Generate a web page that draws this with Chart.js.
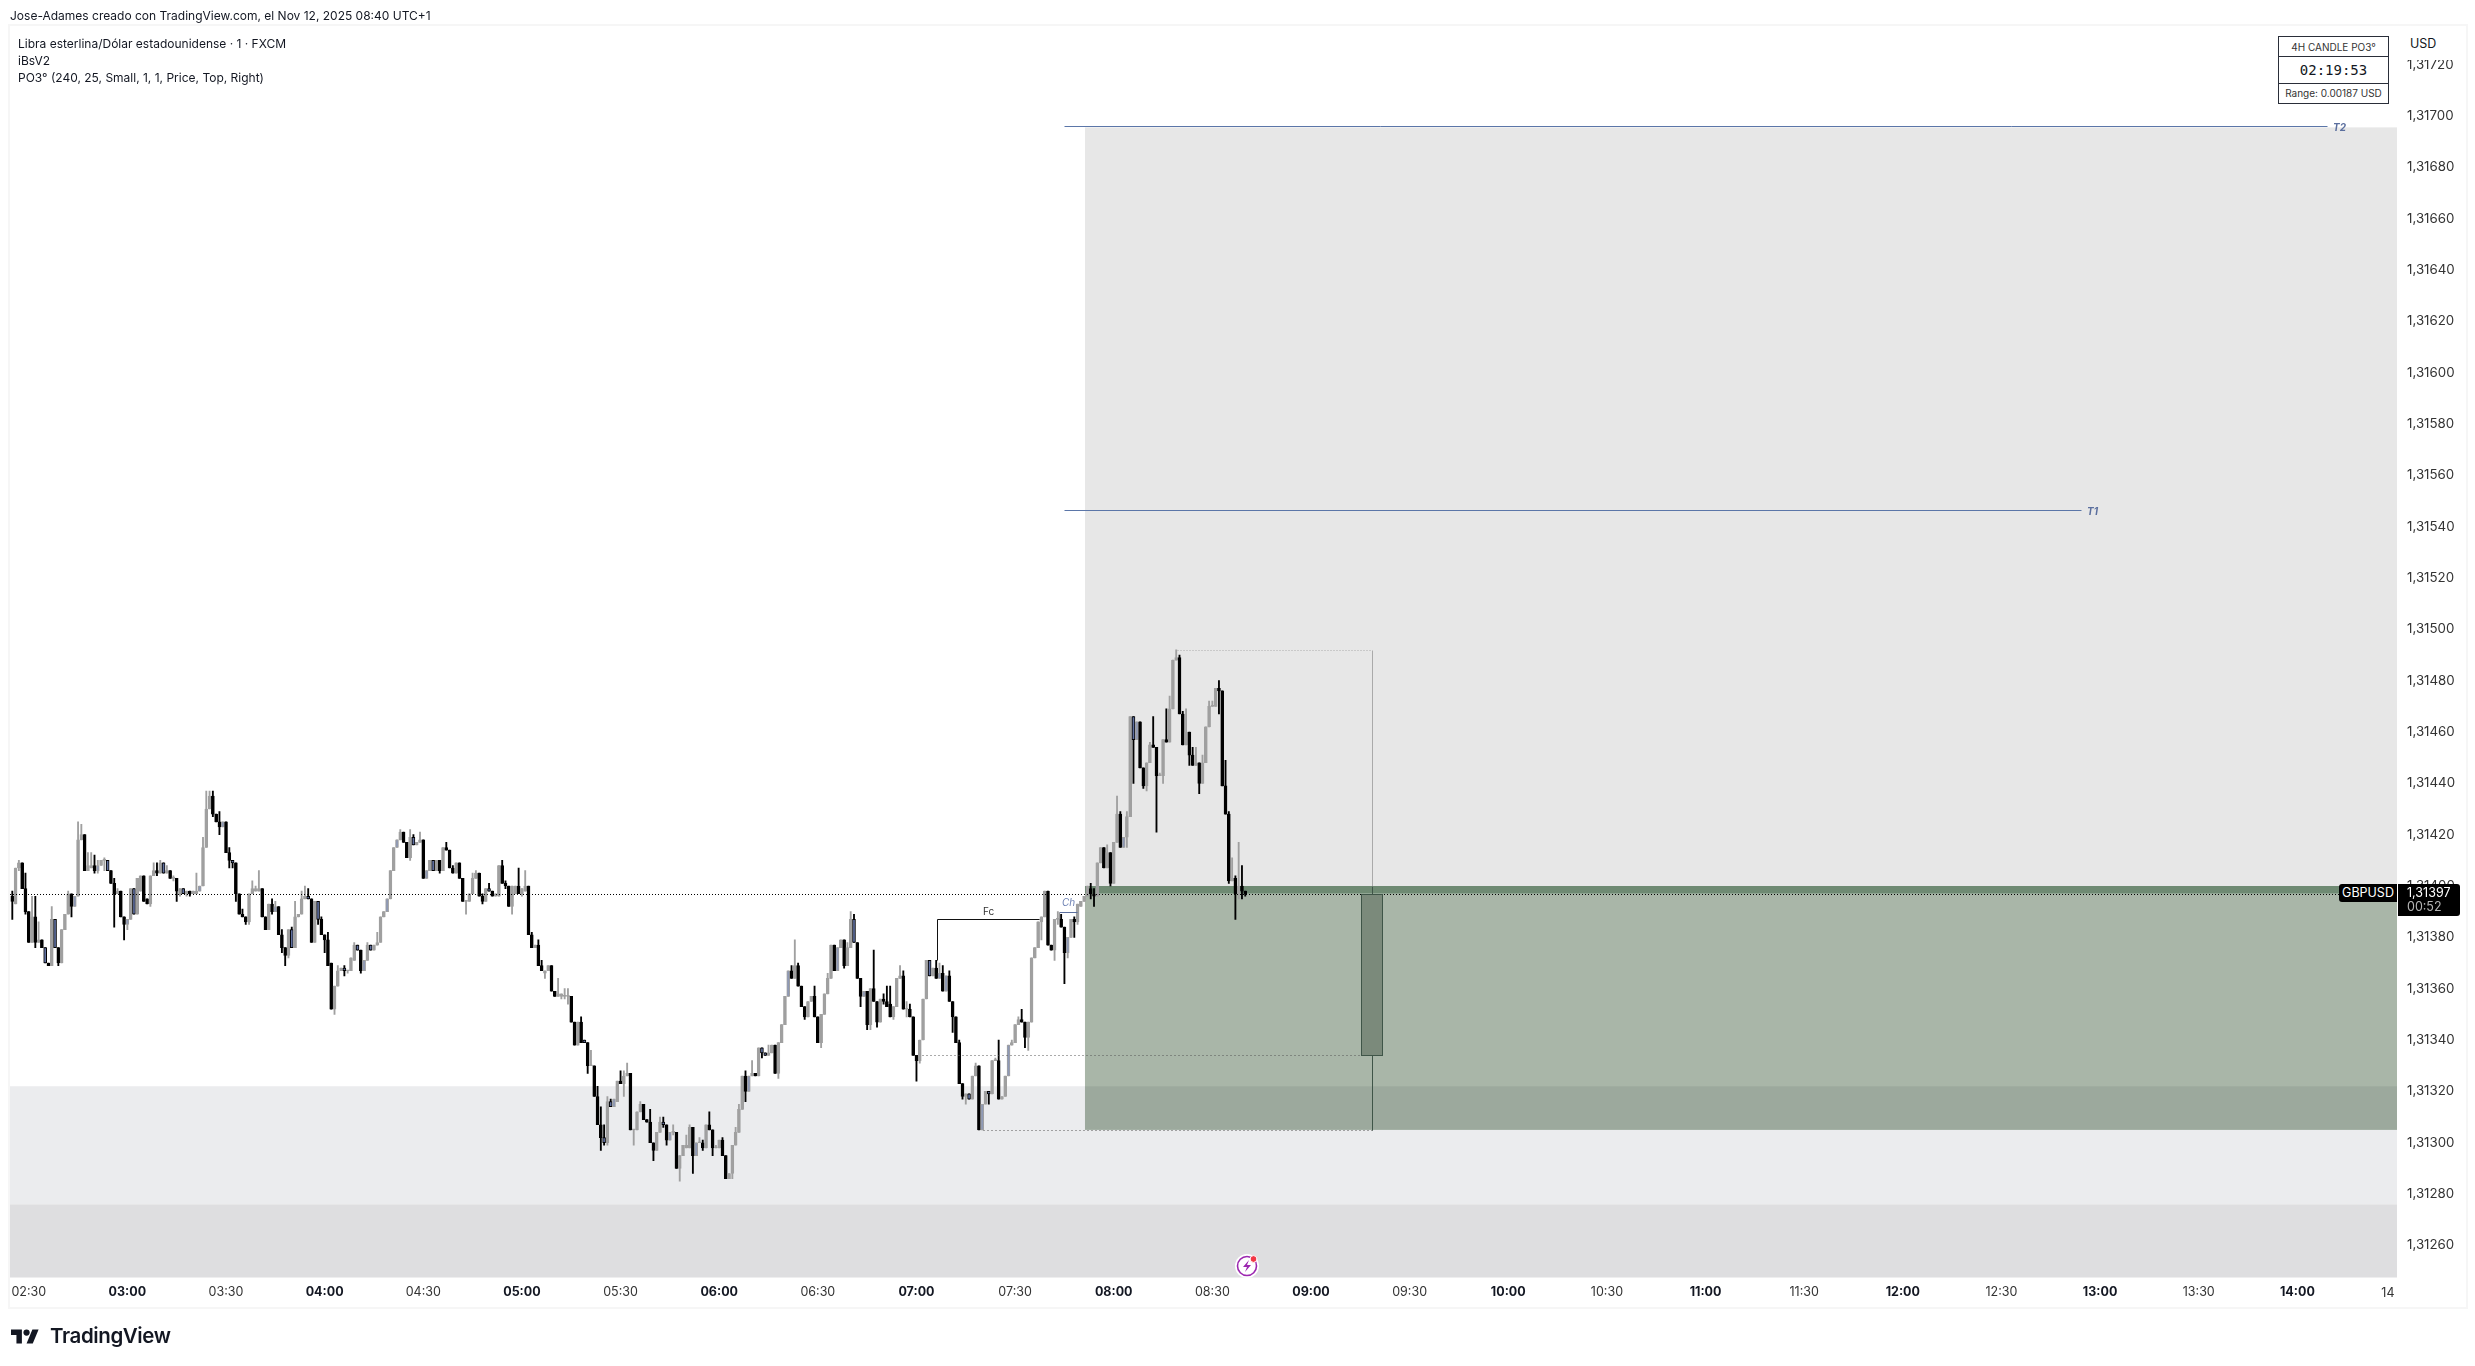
<!DOCTYPE html>
<html>
<head>
<meta charset="utf-8">
<title>GBPUSD 1m</title>
<script src="https://cdn.jsdelivr.net/npm/chart.js@4"></script>
<style>
  html, body { margin: 0; background: #fff; }
  body { width: 2475px; height: 1366px; position: relative; overflow: hidden; font-family: Inter, sans-serif; color: #131722; }
  canvas { position: absolute; left: 0; top: 0; }
  .t { position: absolute; white-space: nowrap; font-size: 12px; line-height: 17px; }
  #frame { position: absolute; left: 8px; top: 24px; width: 2456px; height: 1281px; border: 2px solid #f6f6f6; }
  #panel { position: absolute; left: 2278px; top: 36px; width: 109px; height: 66px; border: 1px solid #2a2e39; background: #fff; text-align: center; }
  #panel div { border-bottom: 1px solid #2a2e39; box-sizing: border-box; white-space: nowrap; }
  #panel div:last-child { border-bottom: 0; }
  #usd { position: absolute; left: 2401px; top: 31px; width: 60px; height: 29px; background: #fff; border-radius: 5px; font-size: 12.5px; line-height: 26px; text-indent: 9px; }
  .tag { position: absolute; background: #000; color: #fff; font-size: 12.5px; }
</style>
</head>
<body>
<div id="frame"></div>
<canvas id="chart" width="2475" height="1366"></canvas>

<div class="t" style="left:10px;top:7px">Jose-Adames creado con TradingView.com, el Nov 12, 2025 08:40 UTC+1</div>
<div class="t" style="left:18px;top:35px">Libra esterlina/Dólar estadounidense · 1 · FXCM</div>
<div class="t" style="left:18px;top:52px">iBsV2</div>
<div class="t" style="left:18px;top:69px">PO3° (240, 25, Small, 1, 1, Price, Top, Right)</div>

<div id="panel">
  <div style="height:20px;font-size:10px;line-height:20px;color:#333">4H CANDLE PO3°</div>
  <div style="height:27px;font:14px/27px 'DejaVu Sans Mono',monospace">02:19:53</div>
  <div style="height:19px;font-size:10px;line-height:19px;color:#333">Range: 0.00187 USD</div>
</div>
<div id="usd">USD</div>

<div class="tag" style="left:2339px;top:884px;width:58px;height:18px;line-height:18px;text-align:center;border-radius:3px 0 0 3px">GBPUSD</div>
<div class="tag" style="left:2398px;top:884px;width:62px;height:32px;border-radius:0 3px 3px 0">
  <div style="position:absolute;left:9px;top:0;line-height:17px">1,31397</div>
  <div style="position:absolute;left:9px;top:14px;line-height:17px;color:#b5b5b5">00:52</div>
</div>

<svg style="position:absolute;left:1234px;top:1253px" width="26" height="26" viewBox="0 0 26 26">
  <circle cx="13" cy="13" r="12" fill="#fff"/>
  <circle cx="13" cy="13" r="9.5" fill="none" stroke="#9c27b0" stroke-width="1.6"/>
  <path d="M15 7l-6 7h4l-2 5 6-7h-4z" fill="#9c27b0"/>
  <circle cx="19.5" cy="6" r="3.4" fill="#f23645" stroke="#fff" stroke-width="1"/>
</svg>

<svg style="position:absolute;left:11px;top:1327px" width="28" height="19" viewBox="0 2 36 22">
  <path d="M14 22H7V11H0V4h14v18zM28 22h-8l7.5-18h8L28 22z" fill="#131722"/>
  <circle cx="20" cy="8" r="4" fill="#131722"/>
</svg>
<div class="t" style="left:50px;top:1322px;font-size:20.5px;line-height:28px;font-weight:600;letter-spacing:-0.4px">TradingView</div>

<script>
// price values in points above 1.31000, one candle per minute from 02:25
const firstMinute = 145;
const opens = [
  396,393,407,409,399,390,378,388,378,379,376,370,369,387,376,370,383,389,397,392,
  396,418,420,406,407,408,406,408,410,410,406,401,397,398,388,385,387,399,389,398,
  404,395,393,404,406,405,409,405,406,403,403,397,399,397,398,397,397,398,400,415,
  430,435,428,425,423,425,413,410,409,397,389,388,386,397,398,398,399,388,383,393,
  390,392,381,376,373,383,376,388,389,395,396,395,378,394,387,381,379,370,352,361,
  367,368,367,367,371,377,375,367,371,377,375,377,378,388,390,395,406,415,418,421,
  417,411,419,416,417,418,403,406,410,406,410,406,415,414,407,405,409,403,394,394,
  397,403,405,396,394,399,398,396,396,408,401,400,392,397,400,397,398,400,381,376,
  377,369,366,367,369,359,357,357,357,357,357,347,338,347,340,339,330,330,318,307,
  302,300,316,314,316,324,323,326,327,305,305,312,315,309,308,300,297,304,308,307,
  301,304,304,290,295,298,298,306,295,300,300,298,307,305,298,298,301,295,286,288,
  299,304,313,326,320,326,327,326,337,335,334,335,338,327,339,346,357,367,364,369,
  361,353,349,355,357,349,339,350,358,364,377,367,376,379,369,376,387,378,364,357,
  359,346,360,355,347,356,355,354,349,353,364,365,352,352,349,334,332,340,356,371,
  365,368,364,366,359,365,355,349,339,323,318,319,317,326,330,305,315,320,319,332,
  332,317,318,326,338,339,346,348,347,341,347,372,376,386,388,398,377,375,387,387,
  384,374,380,387,386,392,394,396,399,397,396,409,415,407,413,401,417,428,415,419,
  427,466,457,464,446,439,448,455,454,443,443,457,456,469,488,489,467,455,460,451,
  447,448,440,448,462,470,470,477,476,439,428,402,403,397,400,398
];
const highs = [
  398,407,410,409,405,390,396,396,386,379,376,370,392,387,376,383,389,398,397,396,
  425,424,420,413,413,412,410,410,411,410,406,403,399,398,388,387,399,399,403,404,
  404,395,404,409,409,410,409,408,406,404,403,399,399,398,398,398,405,400,419,437,
  437,437,428,429,425,425,415,410,409,397,391,388,397,402,400,406,399,388,393,395,
  394,392,383,376,383,384,394,389,398,400,399,395,394,394,388,381,382,370,361,369,
  368,369,367,372,378,377,375,371,378,377,377,382,388,390,395,406,415,418,422,421,
  417,422,420,417,421,418,406,410,410,410,410,415,417,414,408,409,409,403,394,397,
  405,406,405,397,399,401,398,397,408,410,402,400,400,400,407,399,406,400,382,377,
  379,371,367,369,369,359,364,358,360,360,357,347,347,349,340,339,336,330,322,314,
  307,318,317,317,324,328,328,331,327,305,312,316,315,309,313,300,304,310,310,307,
  304,307,304,295,299,303,307,306,300,302,301,307,312,305,299,301,302,295,288,299,
  306,315,326,328,326,332,327,337,337,335,338,338,338,339,346,357,367,369,379,370,
  361,353,355,357,361,349,350,358,366,377,377,376,379,379,378,390,389,378,364,359,
  359,360,375,355,356,358,361,361,353,364,369,367,355,354,349,334,340,356,371,371,
  368,371,370,369,365,367,355,349,340,323,319,319,326,331,330,315,320,320,332,333,
  340,318,326,338,340,346,349,352,347,347,372,376,386,388,398,398,377,387,390,389,
  384,380,387,388,393,394,396,400,401,399,409,415,415,416,413,417,435,429,419,429,
  466,466,464,464,446,448,456,466,454,444,457,469,474,488,492,490,468,469,460,454,
  454,448,451,462,472,472,477,480,476,449,429,411,404,417,408,398
];
const lows = [
  387,393,406,399,389,378,378,376,378,376,370,369,369,376,369,370,383,389,388,392,
  396,418,406,406,407,405,405,408,406,406,401,384,397,388,379,383,387,389,389,398,
  394,393,392,404,404,405,405,405,403,402,394,396,397,396,396,397,397,398,400,415,
  430,427,425,420,423,413,407,407,394,389,388,385,385,397,398,398,388,383,383,389,
  390,381,374,369,372,376,376,388,389,395,395,378,378,385,381,374,369,352,350,361,
  367,365,366,367,371,375,366,367,371,375,375,377,378,388,390,395,406,415,418,417,
  411,410,416,416,417,403,403,406,406,406,405,406,414,407,405,405,403,394,389,394,
  397,403,396,393,394,398,396,396,396,401,399,392,389,397,397,396,398,381,376,376,
  369,367,364,367,359,357,357,356,356,354,347,338,338,339,339,327,330,318,307,297,
  299,299,314,314,316,323,318,326,305,299,305,312,309,308,300,293,297,304,306,299,
  301,303,290,285,295,298,298,288,295,300,297,298,305,295,298,298,295,286,286,286,
  299,304,313,316,320,326,326,326,333,334,334,335,327,325,339,346,357,364,364,361,
  353,348,349,355,349,339,337,350,358,364,367,367,376,368,369,376,378,364,353,357,
  344,344,355,345,347,354,353,349,348,353,364,352,349,349,334,324,331,340,356,365,
  365,364,364,359,359,355,343,339,323,317,315,317,317,326,305,305,315,315,319,332,
  317,317,318,326,338,339,346,347,337,336,347,372,376,379,388,377,375,371,385,384,
  362,372,380,380,385,392,394,396,395,392,396,409,407,407,400,401,417,415,415,415,
  427,440,457,446,438,437,448,454,421,443,440,456,456,469,488,467,455,455,447,447,
  447,436,440,448,462,470,470,467,439,428,401,402,387,395,395,396
];
const closes = [
  394,407,409,399,390,378,388,378,379,376,370,369,387,376,370,383,389,397,392,396,
  418,420,406,408,408,406,408,410,410,406,401,397,398,388,385,387,399,389,403,404,
  394,393,404,406,405,409,405,406,403,403,398,399,397,398,397,398,398,400,415,430,
  435,428,425,423,425,413,410,409,397,389,388,386,397,399,399,399,388,383,393,390,
  392,381,376,373,383,376,388,389,395,396,395,378,394,387,381,379,369,352,361,367,
  368,367,367,372,377,375,367,371,377,375,377,378,388,390,395,406,415,418,421,417,
  411,419,416,417,418,403,406,410,406,410,406,415,414,407,405,409,403,394,394,397,
  403,405,396,394,399,398,396,397,408,401,400,392,400,400,397,399,400,381,376,377,
  369,367,367,369,359,357,358,358,357,357,347,338,347,339,339,330,330,318,307,302,
  300,316,314,317,324,323,326,327,305,305,312,315,309,308,300,297,304,308,307,301,
  304,304,290,295,299,299,306,295,300,300,298,307,305,298,298,301,295,286,288,299,
  304,313,326,320,326,327,326,337,335,334,335,338,327,339,346,357,367,364,369,361,
  353,349,355,357,349,339,350,358,364,377,367,376,379,369,376,387,378,364,357,359,
  346,360,355,347,356,355,353,349,353,364,365,352,352,349,334,332,340,356,371,365,
  368,364,366,359,365,355,349,339,323,318,319,317,326,330,305,315,320,319,332,332,
  317,318,326,338,339,346,348,347,341,347,372,376,386,388,398,377,375,387,387,384,
  374,380,387,386,393,394,396,400,397,396,409,415,407,413,401,417,428,415,419,427,
  466,457,464,446,439,448,455,454,443,443,457,456,469,488,489,467,455,460,451,447,
  448,440,448,462,470,470,477,476,439,428,402,403,397,400,398,397
];
// candles the iBsV2 indicator marks as inside bars
const insideBars = [10,13,19,26,29,35,37,46,52,57,64,67,80,85,90,93,101,105,107,109,114,117,122,126,128,
  145,174,180,182,183,198,200,208,224,228,229,236,251,256,259,279,282,284,291,295,297,303,321,338,341,342];

const lastPrice = 397;
const supportBand = [276, 322];
const lowerBand = [240, 276];
const targetZone = [400, 695.5];
const poZone = [305, 400];
const zoneStart = 471.25;
const t1 = 546.5, t2 = 696.2;
const candle4h = { open: 334, high: 492, low: 305, close: 397, from: 555.2, mid: 558.4, to: 561.5, start: 499.2 };
const fc = { level: 387, foot: 371, from: 426.2, to: 457.3 };
const ch = { level: 390, foot: 387, from: 463.2, to: 468.9 };

const px = v => 1.31 + v / 100000;

const up = i => closes[i] >= opens[i];
const edgeColors = opens.map((o, i) => (up(i) ? "#a0a0a0" : "#000000"));
const fillColors = opens.map((o, i) => (insideBars.includes(i) ? (up(i) ? "#8e99b6" : "#5f6f9f") : edgeColors[i]));
const isHour = (c) => c.tick && c.tick.value % 60 === 0;

const overlay = {
  id: "overlay",
  beforeDatasetsDraw(chart) {
    const { ctx, chartArea: a, scales: { x, y } } = chart;
    const box = (l, r, lo, hi, color) => {
      ctx.fillStyle = color;
      ctx.fillRect(x.getPixelForValue(l), y.getPixelForValue(px(hi)), x.getPixelForValue(r) - x.getPixelForValue(l), y.getPixelForValue(px(lo)) - y.getPixelForValue(px(hi)));
    };
    ctx.save();
    ctx.beginPath();
    ctx.rect(a.left, a.top, a.width, a.height);
    ctx.clip();
    box(x.min, x.max, supportBand[0], supportBand[1], "#ebecee");
    box(x.min, x.max, lowerBand[0], lowerBand[1], "#dedee0");
    box(zoneStart, x.max, targetZone[0], targetZone[1], "#e7e7e7");
    box(zoneStart, x.max, poZone[0], lastPrice, "rgba(9,46,6,0.35)");
    box(zoneStart, x.max, lastPrice, poZone[1], "#6f8a73");
    ctx.restore();
  },
  afterDatasetsDraw(chart) {
    const { ctx, chartArea: a, scales: { x, y } } = chart;
    const X = m => Math.round(x.getPixelForValue(m)) + 0.5;
    const Y = v => Math.round(y.getPixelForValue(px(v))) + 0.5;
    const seg = (x1, y1, x2, y2, color, dash) => {
      ctx.beginPath();
      ctx.setLineDash(dash || []);
      ctx.strokeStyle = color;
      ctx.lineWidth = 1;
      ctx.moveTo(x1, y1);
      ctx.lineTo(x2, y2);
      ctx.stroke();
      ctx.setLineDash([]);
    };
    const label = (text, m, yPx, font, color) => {
      ctx.font = font;
      ctx.fillStyle = color;
      ctx.textAlign = "center";
      ctx.textBaseline = "middle";
      ctx.fillText(text, X(m), yPx);
    };
    ctx.save();
    // last price
    seg(a.left, Y(lastPrice), a.right, Y(lastPrice), "#000", [1, 2]);
    // levels of the 4h candle
    seg(X(421.6), Y(candle4h.open), X(candle4h.from), Y(candle4h.open), "#555", [1, 3]);
    seg(X(440.2), Y(candle4h.low), X(candle4h.mid), Y(candle4h.low), "#555", [1, 3]);
    seg(X(candle4h.start), Y(candle4h.high), X(candle4h.mid), Y(candle4h.high), "#aaa", [1, 2]);
    seg(X(candle4h.mid), Y(candle4h.high), X(candle4h.mid), Y(poZone[1]), "#aaa");
    seg(X(candle4h.mid), Y(poZone[1]), X(candle4h.mid), Y(lastPrice), "#3f5548");
    seg(X(candle4h.mid), Y(candle4h.open), X(candle4h.mid), Y(candle4h.low), "#3f5548");
    const bx = X(candle4h.from), bw = X(candle4h.to) - bx;
    ctx.fillStyle = "#7b8a7b";
    ctx.fillRect(bx, Y(lastPrice), bw, Y(candle4h.open) - Y(lastPrice));
    ctx.strokeStyle = "#3f5548";
    ctx.strokeRect(bx, Y(lastPrice), bw, Y(candle4h.open) - Y(lastPrice));
    // targets
    seg(X(464.8), Y(t2), X(848.9), Y(t2), "#5b76a8");
    seg(X(464.8), Y(t1), X(774.1), Y(t1), "#5b76a8");
    label("T2", 852.6, Y(t2) + 1, "italic bold 10px Inter", "#5b6f9e");
    label("T1", 777.5, Y(t1) + 1, "italic bold 10px Inter", "#5b6f9e");
    // structure labels
    seg(X(fc.from), Y(fc.level), X(fc.to), Y(fc.level), "#111");
    seg(X(fc.from), Y(fc.level), X(fc.from), Y(fc.foot), "#111");
    label("Fc", (fc.from + fc.to) / 2, 912, "10px Inter", "#333");
    seg(X(ch.from), Y(ch.level), X(ch.to), Y(ch.level), "#5b6f9e");
    seg(X(ch.from), Y(ch.level), X(ch.from), Y(ch.foot), "#999");
    label("Ch", (ch.from + ch.to) / 2, 903, "italic 10px Inter", "#6f83b5");
    // the 14:30 label is cut off by the pane edge
    ctx.beginPath();
    ctx.rect(a.left, a.bottom, a.width - 2, 40);
    ctx.clip();
    label("14:30", 870.4, 1293, "12.5px Inter", "#333");
    ctx.restore();
  },
};

new Chart(document.getElementById("chart"), {
  type: "bar",
  data: {
    datasets: [
      {
        label: "wicks",
        data: opens.map((o, i) => ({ x: firstMinute + i, y: [px(lows[i]), px(highs[i])] })),
        backgroundColor: edgeColors,
        barThickness: 1.2,
        minBarLength: 1,
        grouped: false,
        order: 2,
      },
      {
        label: "bodies",
        data: opens.map((o, i) => ({ x: firstMinute + i, y: [px(o), px(closes[i])] })),
        backgroundColor: fillColors,
        borderColor: edgeColors,
        borderWidth: 1,
        borderSkipped: false,
        barThickness: 3,
        minBarLength: 1,
        grouped: false,
        order: 1,
      },
    ],
  },
  options: {
    responsive: false,
    animation: false,
    devicePixelRatio: 1,
    layout: { padding: { left: 10, top: 26, right: 10, bottom: 61 } },
    plugins: { legend: { display: false }, tooltip: { enabled: false } },
    scales: {
      x: {
        type: "linear",
        offset: false,
        min: 144.3,
        max: 870.3,
        grid: { display: false, drawTicks: false },
        border: { display: false },
        afterFit: (s) => { s.height = 27.5; s.paddingLeft = 0; s.paddingRight = 0; },
        ticks: {
          stepSize: 30,
          includeBounds: false,
          autoSkip: false,
          maxRotation: 0,
          padding: 7,
          color: (c) => (isHour(c) ? "#131722" : "#333"),
          font: (c) => ({ family: "Inter", size: 12.5, weight: isHour(c) ? "bold" : "normal" }),
          callback: (v) => {
            if (v >= 870) return "";
            const h = Math.floor(v / 60);
            return String(h).padStart(2, "0") + ":" + String(v % 60).padStart(2, "0");
          },
        },
      },
      y: {
        position: "right",
        min: 1.312475,
        max: 1.31735,
        grid: { display: false, drawTicks: false },
        border: { display: false },
        afterFit: (s) => { s.width = 68; },
        ticks: {
          stepSize: 0.0002,
          includeBounds: false,
          autoSkip: false,
          padding: 10,
          color: "#333",
          font: { family: "Inter", size: 13.3 },
          callback: (v) => v.toFixed(5).replace(".", ","),
        },
      },
    },
  },
  plugins: [overlay],
});
</script>
</body>
</html>
